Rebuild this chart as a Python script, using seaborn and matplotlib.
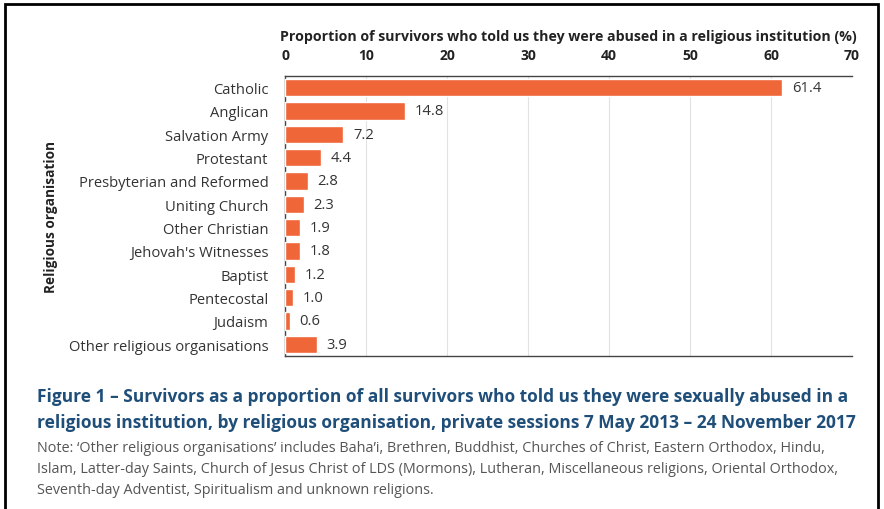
import matplotlib
matplotlib.use("Agg")
import matplotlib.pyplot as plt
import seaborn as sns
import pandas as pd
from matplotlib.patches import Rectangle

categories = ["Catholic", "Anglican", "Salvation Army", "Protestant",
              "Presbyterian and Reformed", "Uniting Church", "Other Christian",
              "Jehovah's Witnesses", "Baptist", "Pentecostal", "Judaism",
              "Other religious organisations"]
values = [61.4, 14.8, 7.2, 4.4, 2.8, 2.3, 1.9, 1.8, 1.2, 1.0, 0.6, 3.9]
value_labels = ["61.4", "14.8", "7.2", "4.4", "2.8", "2.3", "1.9", "1.8", "1.2", "1.0", "0.6", "3.9"]
x_ticks = [0, 10, 20, 30, 40, 50, 60, 70]

sns.set_theme(style="white")
plt.rcParams['font.family'] = ['Open Sans', 'DejaVu Sans']

df = pd.DataFrame({"org": categories, "pct": values})

fig = plt.figure(figsize=(8.84, 5.10), dpi=100)
ax = fig.add_axes([285/884, 1-357/510, 567/884, 280/510])

sns.barplot(data=df, x="pct", y="org", color="#EF6638", saturation=1,
            width=0.75, ax=ax, zorder=3)

ax.set_xlim(0, 70)
ax.set_xticks(x_ticks)
ax.xaxis.tick_top()
ax.xaxis.set_label_position("top")
ax.tick_params(axis="x", length=0, labelsize=10, pad=10, colors="#222222")
for t in ax.get_xticklabels():
    t.set_fontweight("bold")
ax.tick_params(axis="y", length=0, labelsize=10.6, pad=12, colors="#333333")
ax.set_xlabel("Proportion of survivors who told us they were abused in a religious institution (%)",
              fontsize=10.2, fontweight="bold", color="#222222", labelpad=6)
ax.set_ylabel("Religious organisation", fontsize=9.8, fontweight="bold",
              color="#222222", labelpad=8)
ax.grid(axis="x", color="#E2E2E2", linewidth=0.8, zorder=0)
ax.grid(axis="y", visible=False)

for s in ["top", "left", "bottom"]:
    ax.spines[s].set_visible(True)
    ax.spines[s].set_color("#444444")
    ax.spines[s].set_linewidth(1.0)
ax.spines["right"].set_visible(False)

for i, (v, lab) in enumerate(zip(values, value_labels)):
    ax.annotate(lab, xy=(v, i), xytext=(7, 0), textcoords="offset points",
                va="center", ha="left", fontsize=10.6, color="#333333")

fig.text(37/884, 1-397/510,
         "Figure 1 \u2013 Survivors as a proportion of all survivors who told us they were sexually abused in a",
         fontsize=12.5, fontweight="bold", color="#1F4E79", va="center", ha="left")
fig.text(37/884, 1-423/510,
         "religious institution, by religious organisation, private sessions 7 May 2013 \u2013 24 November 2017",
         fontsize=12.5, fontweight="bold", color="#1F4E79", va="center", ha="left")
fig.text(37/884, 1-449/510,
         "Note: \u2018Other religious organisations\u2019 includes Baha\u2019i, Brethren, Buddhist, Churches of Christ, Eastern Orthodox, Hindu,",
         fontsize=10.4, color="#555555", va="center", ha="left")
fig.text(37/884, 1-470/510,
         "Islam, Latter-day Saints, Church of Jesus Christ of LDS (Mormons), Lutheran, Miscellaneous religions, Oriental Orthodox,",
         fontsize=10.4, color="#555555", va="center", ha="left")
fig.text(37/884, 1-491/510,
         "Seventh-day Adventist, Spiritualism and unknown religions.",
         fontsize=10.4, color="#555555", va="center", ha="left")

frame = Rectangle((5/884, -0.05), (878-5)/884, 1.05 - 5/510, transform=fig.transFigure,
                  fill=False, edgecolor="black", linewidth=2.0)
fig.patches.append(frame)

fig.savefig("out.png", dpi=100)
